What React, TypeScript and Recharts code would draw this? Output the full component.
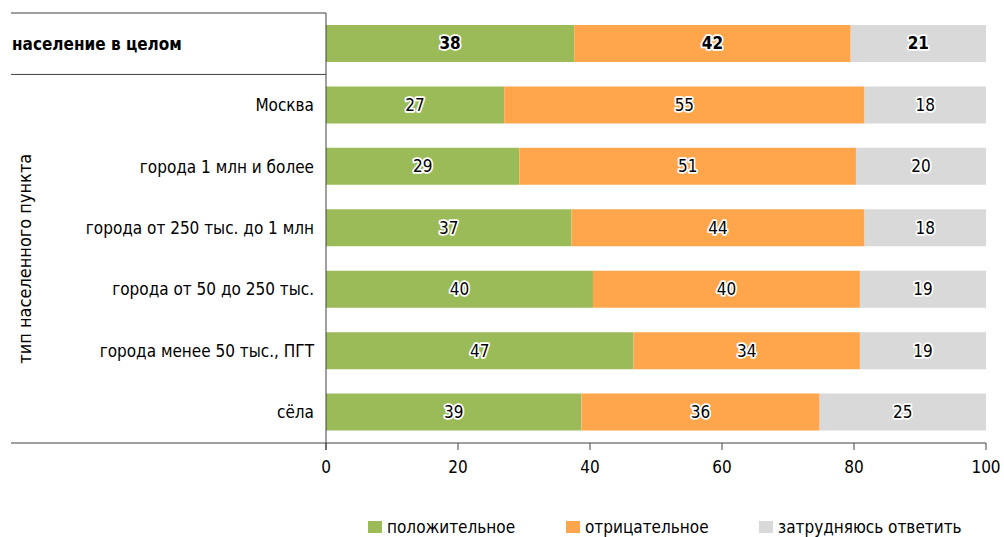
import React from 'react';
import { BarChart, Bar, XAxis, YAxis, LabelList, Legend } from 'recharts';

const categories = [
  'население в целом',
  'Москва',
  'города 1 млн и более',
  'города от 250 тыс. до 1 млн',
  'города от 50 до 250 тыс.',
  'города менее 50 тыс., ПГТ',
  'сёла',
];
const positive = [37.6, 27.0, 29.3, 37.2, 40.45, 46.6, 38.7];
const negative = [41.9, 54.6, 51.0, 44.4, 40.45, 34.3, 36.1];
const undecided = [20.5, 18.4, 19.7, 18.4, 19.1, 19.1, 25.2];
const xTicks = [0, 20, 40, 60, 80, 100];
const seriesNames = ['положительное', 'отрицательное', 'затрудняюсь ответить'];
const yAxisTitle = 'тип населенного пункта';

const COLORS = ['#9BBB59', '#FFA64D', '#D9D9D9'];
const FONT = '"DejaVu Sans Condensed", "DejaVu Sans", sans-serif';
const LINE = '#404040';

const data = categories.map((name, i) => ({
  name,
  pos: positive[i],
  neg: negative[i],
  und: undecided[i],
}));

const W = 1004;
const H = 537;
const MARGIN = { top: 13, right: 18, bottom: 0, left: 0 };
const Y_W = 326;
const X_H = 73;
const LEG_H = 21;
const PLOT_TOP = MARGIN.top;
const PLOT_BOTTOM = H - MARGIN.bottom - LEG_H - X_H;
const BAND = (PLOT_BOTTOM - PLOT_TOP) / categories.length;
const LEFT_EDGE = 11;

const YTick = (props: any) => {
  const { x, y, payload, index } = props;
  const axisX = Y_W;
  if (index === 0) {
    return (
      <g>
        <line x1={LEFT_EDGE} x2={axisX} y1={y - BAND / 2} y2={y - BAND / 2} stroke={LINE} strokeWidth={1} />
        <line x1={LEFT_EDGE} x2={axisX} y1={y + BAND / 2} y2={y + BAND / 2} stroke={LINE} strokeWidth={1} />
        <text x={12} y={y} dy="0.35em" textAnchor="start" fontFamily={FONT} fontSize={17} fontWeight="bold" fill="#000">
          {payload.value}
        </text>
        <text
          x={25}
          y={y + BAND / 2 + (BAND * (categories.length - 1)) / 2}
          textAnchor="middle"
          dominantBaseline="central"
          fontFamily={FONT}
          fontSize={18}
          fill="#000"
          transform={`rotate(-90, 25, ${y + BAND / 2 + (BAND * (categories.length - 1)) / 2})`}
        >
          {yAxisTitle}
        </text>
      </g>
    );
  }
  const last = index === categories.length - 1;
  return (
    <g>
      {last && (
        <>
          <line x1={LEFT_EDGE} x2={axisX} y1={y + BAND / 2} y2={y + BAND / 2} stroke={LINE} strokeWidth={1} />
          <line x1={axisX} x2={axisX} y1={y + BAND / 2} y2={y + BAND / 2 + 7} stroke={LINE} strokeWidth={1} />
        </>
      )}
      <text x={axisX - 12} y={y} dy="0.35em" textAnchor="end" fontFamily={FONT} fontSize={17} fill="#000">
        {payload.value}
      </text>
    </g>
  );
};

const XTick = (props: any) => {
  const { x, y, payload } = props;
  return (
    <text x={x} y={y} dy="0.9em" textAnchor="middle" fontFamily={FONT} fontSize={17} fill="#000">
      {payload.value}
    </text>
  );
};

const renderBarLabel = (props: any) => {
  const { x, y, width, height, value, index } = props;
  return (
    <text
      x={x + width / 2}
      y={y + height / 2}
      dy="0.35em"
      textAnchor="middle"
      fontFamily={FONT}
      fontSize={17}
      fontWeight={index === 0 ? 'bold' : 'normal'}
      fill="#000"
      stroke="#fff"
      strokeWidth={3.5}
      strokeLinejoin="round"
      paintOrder="stroke"
    >
      {Math.round(value)}
    </text>
  );
};

const legendLefts = [368, 566, 759];

const renderLegend = () => (
  <div style={{ position: 'relative', height: LEG_H, fontFamily: FONT, fontSize: 17, whiteSpace: 'nowrap' }}>
    {seriesNames.map((n, i) => (
      <div
        key={n}
        style={{ position: 'absolute', left: legendLefts[i], top: 0, height: LEG_H, display: 'flex', alignItems: 'center' }}
      >
        <span style={{ display: 'inline-block', width: 14, height: 12, background: COLORS[i], marginRight: 5 }} />
        <span style={{ color: '#000' }}>{n}</span>
      </div>
    ))}
  </div>
);

export default function App() {
  return (
    <div style={{ position: 'absolute', left: 0, top: 0, width: W, height: H, background: '#fff' }}>
      <BarChart width={W} height={H} data={data} layout="vertical" margin={MARGIN} style={{ fontFamily: FONT }}>
        <XAxis
          type="number"
          domain={[0, 100]}
          ticks={xTicks}
          height={X_H}
          tick={<XTick />}
          tickSize={7}
          tickMargin={8}
          axisLine={{ stroke: LINE }}
          tickLine={{ stroke: LINE }}
          interval={0}
        />
        <YAxis
          type="category"
          dataKey="name"
          width={Y_W}
          tick={<YTick />}
          tickLine={false}
          axisLine={{ stroke: LINE }}
          interval={0}
        />
        <Legend verticalAlign="bottom" height={LEG_H} content={renderLegend} wrapperStyle={{ height: LEG_H }} />
        <Bar dataKey="pos" name={seriesNames[0]} stackId="a" fill={COLORS[0]} barSize={37} isAnimationActive={false}>
          <LabelList dataKey="pos" content={renderBarLabel} />
        </Bar>
        <Bar dataKey="neg" name={seriesNames[1]} stackId="a" fill={COLORS[1]} barSize={37} isAnimationActive={false}>
          <LabelList dataKey="neg" content={renderBarLabel} />
        </Bar>
        <Bar dataKey="und" name={seriesNames[2]} stackId="a" fill={COLORS[2]} barSize={37} isAnimationActive={false}>
          <LabelList dataKey="und" content={renderBarLabel} />
        </Bar>
      </BarChart>
    </div>
  );
}
